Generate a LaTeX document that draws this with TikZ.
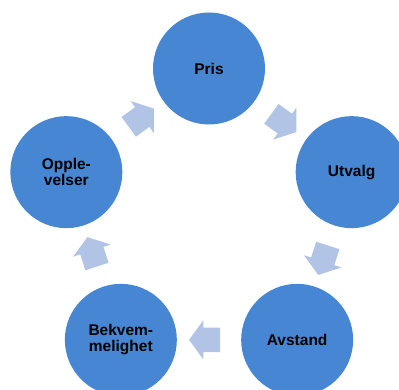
\documentclass[tikz,border=0pt]{standalone}
\usepackage{fontspec}
\setmainfont{Liberation Sans}
\usetikzlibrary{shapes.arrows}

\definecolor{stageblue}{RGB}{71,134,210}
\definecolor{flowblue}{RGB}{177,196,230}

\begin{document}
\begin{tikzpicture}[x=1pt, y=1pt,
  stage/.style={circle, fill=stageblue, minimum size=112pt, inner sep=0pt,
    align=center, font=\fontsize{15.5}{16}\selectfont\bfseries},
  flow/.style={single arrow, fill=flowblue, inner sep=0pt, inner ysep=12pt,
    minimum height=31pt, single arrow head extend=7.5pt,
    single arrow tip angle=108, sloped, allow upside down}]
\useasboundingbox (-209,-171.5) rectangle (190,218.5);

% five stages on a pentagon
\node[stage] (pris)    at (90:150)   {Pris};
\node[stage] (utvalg)  at (18:150)   {Utvalg};
\node[stage] (avstand) at (-54:150)  {Avstand};
\node[stage] (bekvem)  at (-126:150) {Bekvem-\\melighet};
\node[stage] (opple)   at (162:150)  {Opple-\\velser};

% block arrows, clockwise
\path (pris)    -- node[flow] (f1) {} (utvalg);
\path (utvalg)  -- node[flow] (f2) {} (avstand);
\path (avstand) -- node[flow] (f3) {} (bekvem);
\path (bekvem)  -- node[flow] (f4) {} (opple);
\path (opple)   -- node[flow] (f5) {} (pris);
\end{tikzpicture}
\end{document}
